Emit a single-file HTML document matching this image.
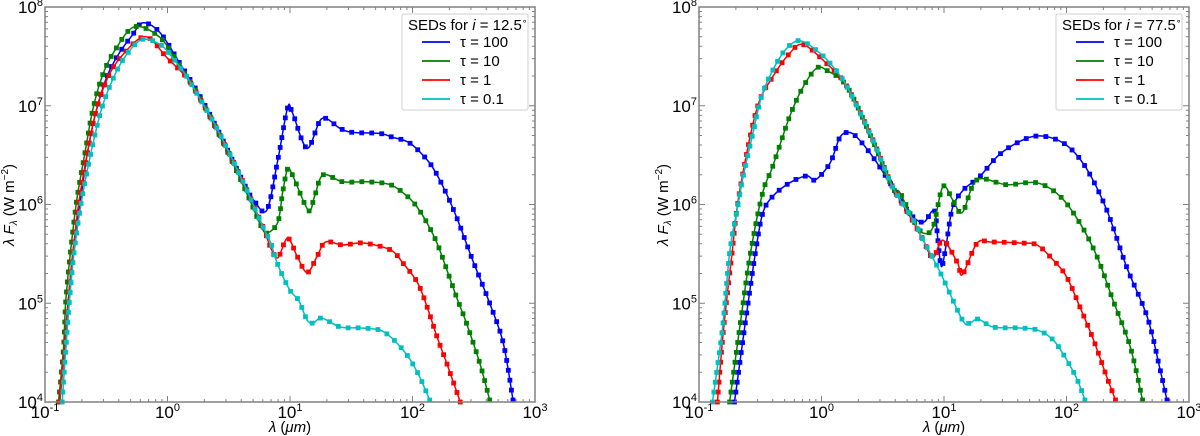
<!DOCTYPE html>
<html><head><meta charset="utf-8">
<style>
html,body{margin:0;padding:0;background:#fff;}
svg{display:block;font-family:"Liberation Sans","DejaVu Sans",sans-serif;}
</style></head>
<body>
<svg id="chart" width="1200" height="436" viewBox="0 0 1200 436" xmlns="http://www.w3.org/2000/svg"></svg>
<script>
// ---- data (log10 wavelength in micron, log10 lambda*F_lambda in W m^-2) ----
const seriesNames = ["tau100","tau10","tau1","tau01"];
const seriesLabels = ["τ = 100","τ = 10","τ = 1","τ = 0.1"];
const seriesColors = ["#0000ff","#007f00","#ff0000","#00bfbf"];
const xTickExp = [-1,0,1,2,3];
const yTickExp = [4,5,6,7,8];

// Left panel: i = 12.5
const L_tau100_x = [-0.88,-0.845,-0.81,-0.77,-0.71,-0.65,-0.58,-0.49,-0.39,-0.29,-0.20,-0.06,0.10,0.25,0.40,0.53,0.65,0.70,0.81,0.90,0.98,1.02,1.14,1.26,1.41,1.51,1.73,1.84,1.98,2.14,2.25,2.36,2.49,2.63,2.74,2.82];
const L_tau100_y = [4.00,4.53,5.03,5.54,6.05,6.55,6.96,7.31,7.54,7.71,7.84,7.74,7.43,7.13,6.78,6.45,6.15,6.05,5.94,6.45,6.98,6.93,6.57,6.87,6.77,6.73,6.72,6.68,6.62,6.42,6.18,5.87,5.44,5.00,4.60,4.02];
const L_tau10_x = [-0.89,-0.85,-0.83,-0.79,-0.74,-0.67,-0.61,-0.53,-0.43,-0.27,-0.06,0.10,0.25,0.40,0.53,0.67,0.76,0.81,0.90,0.94,0.98,1.02,1.15,1.20,1.27,1.43,1.63,1.82,1.96,2.04,2.12,2.20,2.28,2.36,2.44,2.55,2.63];
const L_tau10_y = [4.00,4.53,5.03,5.54,6.05,6.55,6.96,7.31,7.56,7.80,7.69,7.40,7.11,6.76,6.43,6.05,5.79,5.71,5.82,6.12,6.36,6.30,5.94,6.08,6.30,6.23,6.23,6.20,6.08,5.97,5.81,5.61,5.34,5.06,4.80,4.39,4.02];
const L_tau1_x = [-0.88,-0.84,-0.81,-0.77,-0.72,-0.65,-0.58,-0.49,-0.37,-0.18,0.0,0.16,0.27,0.40,0.62,0.78,0.84,0.90,0.98,1.06,1.14,1.22,1.29,1.43,1.60,1.82,1.92,2.04,2.12,2.20,2.28,2.39];
const L_tau1_y = [4.00,4.53,5.03,5.54,6.05,6.55,6.96,7.28,7.51,7.70,7.48,7.28,7.06,6.77,6.22,5.77,5.57,5.46,5.66,5.47,5.31,5.47,5.62,5.59,5.61,5.54,5.41,5.21,4.96,4.66,4.39,4.00];
const L_tau01_x = [-0.86,-0.83,-0.80,-0.76,-0.70,-0.62,-0.54,-0.45,-0.35,-0.21,-0.06,0.04,0.16,0.27,0.40,0.62,0.78,0.84,0.90,1.0,1.07,1.14,1.19,1.26,1.41,1.57,1.73,1.82,1.90,1.98,2.06,2.14];
const L_tau01_y = [4.00,4.53,5.03,5.54,6.05,6.55,6.96,7.26,7.49,7.67,7.62,7.49,7.29,7.06,6.78,6.22,5.77,5.62,5.39,5.13,5.03,4.83,4.80,4.85,4.76,4.75,4.73,4.66,4.56,4.43,4.25,4.02];

// Right panel: i = 77.5
const R_tau100_x = [-0.71,-0.63,-0.54,-0.48,-0.40,-0.26,-0.12,-0.05,0.07,0.15,0.22,0.29,0.42,0.58,0.72,0.83,0.90,0.93,0.95,0.98,1.02,1.07,1.16,1.29,1.43,1.56,1.73,1.89,2.03,2.17,2.33,2.49,2.66,2.76,2.82];
const R_tau100_y = [4.00,4.73,5.51,5.91,6.08,6.22,6.29,6.25,6.42,6.68,6.73,6.68,6.48,6.18,5.91,5.82,5.93,5.91,5.64,5.37,5.61,5.97,6.15,6.28,6.48,6.60,6.69,6.67,6.57,6.35,5.94,5.37,4.86,4.35,4.02];
const R_tau10_x = [-0.75,-0.67,-0.58,-0.48,-0.40,-0.26,-0.15,-0.04,0.04,0.21,0.42,0.58,0.64,0.75,0.83,0.91,0.99,1.07,1.15,1.27,1.51,1.76,1.95,2.11,2.25,2.38,2.52,2.62];
const R_tau10_y = [4.00,4.73,5.51,6.12,6.38,6.89,7.19,7.38,7.36,7.19,6.64,6.17,6.12,5.84,5.71,5.77,6.18,6.05,5.92,6.25,6.20,6.22,6.08,5.81,5.47,5.03,4.56,4.02];
const R_tau1_x = [-0.85,-0.80,-0.73,-0.67,-0.53,-0.40,-0.26,-0.15,0.04,0.21,0.42,0.58,0.75,0.83,0.91,0.99,1.11,1.15,1.27,1.38,1.62,1.76,1.89,2.0,2.11,2.22,2.33,2.40];
const R_tau1_y = [4.00,4.73,5.51,6.12,6.96,7.29,7.53,7.62,7.43,7.19,6.65,6.18,5.82,5.64,5.46,5.64,5.41,5.29,5.61,5.62,5.61,5.59,5.44,5.27,4.96,4.63,4.25,4.02];
const R_tau01_x = [-0.89,-0.81,-0.75,-0.69,-0.64,-0.56,-0.48,-0.34,-0.23,-0.15,-0.04,0.07,0.21,0.42,0.58,0.75,0.83,0.97,1.15,1.21,1.28,1.40,1.60,1.76,1.89,2.0,2.09,2.15];
const R_tau01_y = [4.00,4.73,5.51,5.94,6.28,6.72,7.13,7.49,7.64,7.65,7.56,7.43,7.19,6.65,6.18,5.84,5.64,5.31,4.83,4.80,4.84,4.76,4.75,4.73,4.63,4.43,4.22,4.02];

const panels = [
  {id:"left", x0:45, x1:535, incl:"12.5",
   xs:[L_tau100_x,L_tau10_x,L_tau1_x,L_tau01_x], ys:[L_tau100_y,L_tau10_y,L_tau1_y,L_tau01_y]},
  {id:"right", x0:699, x1:1189, incl:"77.5",
   xs:[R_tau100_x,R_tau10_x,R_tau1_x,R_tau01_x], ys:[R_tau100_y,R_tau10_y,R_tau1_y,R_tau01_y]}
];
const Y0 = 7, Y1 = 402;
const NS = "http://www.w3.org/2000/svg";
const svg = document.getElementById("chart");
function mk(tag, attrs, parent){
  const e = document.createElementNS(NS, tag);
  for (const k in attrs) e.setAttribute(k, attrs[k]);
  (parent||svg).appendChild(e);
  return e;
}
function smoothPath(P){
  let d = `M${P[0][0].toFixed(1)},${P[0][1].toFixed(1)}`;
  for (let i = 0; i < P.length - 1; i++) {
    const p0 = P[Math.max(i-1,0)], p1 = P[i], p2 = P[i+1], p3 = P[Math.min(i+2,P.length-1)];
    const t = 0.16;
    const c1x = p1[0] + (p2[0]-p0[0])*t, c1y = p1[1] + (p2[1]-p0[1])*t;
    const c2x = p2[0] - (p3[0]-p1[0])*t, c2y = p2[1] - (p3[1]-p1[1])*t;
    d += `C${c1x.toFixed(1)},${c1y.toFixed(1)} ${c2x.toFixed(1)},${c2y.toFixed(1)} ${p2[0].toFixed(1)},${p2[1].toFixed(1)}`;
  }
  return d;
}
panels.forEach(p => {
  const g = mk("g", {});
  
  
  const sx = v => p.x0 + (v - (-1)) / 4 * (p.x1 - p.x0);
  const sy = v => Y1 - (v - 4) / 4 * (Y1 - Y0);
  const clip = mk("clipPath", {id: "clip-" + p.id}, g);
  mk("rect", {x: p.x0, y: Y0, width: p.x1 - p.x0, height: Y1 - Y0 + 3}, clip);
  const sg = mk("g", {"clip-path": `url(#clip-${p.id})`}, g);
  for (let s = 0; s < 4; s++) {
    const xs = p.xs[s], ys = p.ys[s];
    const P = xs.map((v, i) => [sx(v), sy(ys[i])]);
    const line = mk("path", {d: smoothPath(P), fill: "none", stroke: seriesColors[s], "stroke-width": 1.5, "stroke-linejoin": "round"}, sg);
    
    
    const L = line.getTotalLength();
    const n = Math.max(2, Math.round(L / 10));
    for (let k = 0; k <= n; k++) {
      const pt = line.getPointAtLength(L * k / n);
      const m = mk("rect", {x: pt.x - 2.4, y: pt.y - 2.4, width: 4.8, height: 4.8, fill: seriesColors[s]}, sg);
      
      
    }
  }
  const fr = mk("rect", {x: p.x0, y: Y0, width: p.x1 - p.x0, height: Y1 - Y0, fill: "none", stroke: "#808080", "stroke-width": 1.5}, g);
  
  
  let td = "";
  xTickExp.forEach((e, i) => {
    const X = sx(e);
    td += `M${X},${Y1}v-6M${X},${Y0}v6`;
    if (i < xTickExp.length - 1) for (let k = 2; k < 10; k++) {
      const Xm = sx(e + Math.log10(k));
      td += `M${Xm},${Y1}v-3M${Xm},${Y0}v3`;
    }
    const t = mk("text", {x: X, y: Y1 + 16, "font-size": 17, "text-anchor": "middle", fill: "#000"}, g);
    
    
    t.innerHTML = `10<tspan dy="-7" font-size="11">${e}</tspan>`;
  });
  yTickExp.forEach((e, i) => {
    const Yp = sy(e);
    td += `M${p.x0},${Yp}h6M${p.x1},${Yp}h-6`;
    if (i < yTickExp.length - 1) for (let k = 2; k < 10; k++) {
      const Ym = sy(e + Math.log10(k));
      td += `M${p.x0},${Ym}h3M${p.x1},${Ym}h-3`;
    }
    const t = mk("text", {x: p.x0 - 2, y: Yp + 6, "font-size": 17, "text-anchor": "end", fill: "#000"}, g);
    
    
    t.innerHTML = `10<tspan dy="-7" font-size="11">${e}</tspan>`;
  });
  const tk = mk("path", {d: td, stroke: "#808080", "stroke-width": 1, fill: "none"}, g);
  
  
  const xt = mk("text", {x: (p.x0 + p.x1) / 2, y: 432, "font-size": 15, "text-anchor": "middle", fill: "#000"}, g);
  
  
  xt.innerHTML = `<tspan font-style="italic">λ</tspan> (<tspan font-style="italic">μm</tspan>)`;
  const yt = mk("text", {x: 0, y: 0, "font-size": 15, "text-anchor": "middle", fill: "#000", transform: `translate(${p.x0 - 31},205) rotate(-90)`}, g);
  
  
  yt.innerHTML = `<tspan font-style="italic">λ F</tspan><tspan font-style="italic" font-size="10" dy="3">λ</tspan><tspan dy="-3"> (W m</tspan><tspan font-size="10" dy="-6">−2</tspan><tspan dy="6">)</tspan>`;
  const lg = mk("g", {}, g);
  
  
  const lx = p.x1 - 133;
  mk("rect", {x: lx, y: 14, width: 126, height: 96, fill: "#fff", stroke: "#d0d0d0", "stroke-width": 1, rx: 2}, lg);
  const tt = mk("text", {x: lx + 6, y: 30, "font-size": 15, fill: "#000"}, lg);
  
  
  tt.innerHTML = `SEDs for <tspan font-style="italic">i</tspan> = ${p.incl}<tspan dy="-6" font-size="9">∘</tspan>`;
  for (let s = 0; s < 4; s++) {
    const yy = 42 + s * 19;
    const le = mk("g", {}, lg);
    
    
    mk("line", {x1: lx + 20, x2: lx + 48, y1: yy, y2: yy, stroke: seriesColors[s], "stroke-width": 1.8}, le);
    const lt = mk("text", {x: lx + 58, y: yy + 5, "font-size": 15, fill: "#000"}, le);
    lt.textContent = seriesLabels[s];
  }
});
</script>
</body></html>
